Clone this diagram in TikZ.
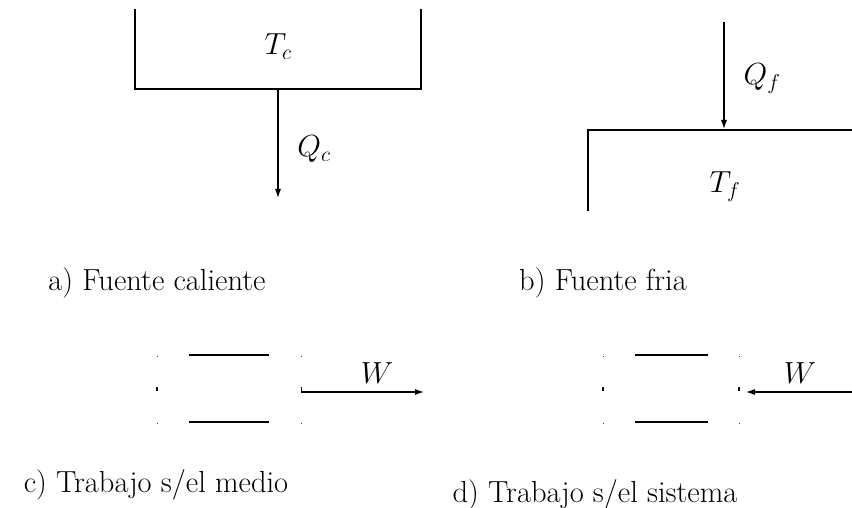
\RequirePackage{fix-cm}
\documentclass[tikz,border=0pt]{standalone}
\usetikzlibrary{arrows.meta}
\definecolor{dotblue}{RGB}{40,40,220}
\begin{document}
\begin{tikzpicture}[x=1pt,y=-1pt,
  wall/.style={line width=1.4pt},
  flow/.style={line width=1.1pt,-{Latex[length=9pt,width=6pt]}},
  lbl/.style={font=\fontsize{30.5}{34}\selectfont, inner sep=0pt, anchor=base},
  tiny/.style={fill=black,inner sep=0pt,minimum width=1.2pt,minimum height=3.5pt},
  speck/.style={fill=dotblue,inner sep=0pt,minimum size=1pt}]
\useasboundingbox (0,0) rectangle (852,508);
% a) hot source
\coordinate (a1) at (135,9);
\coordinate (a2) at (135,89);
\coordinate (a3) at (421,89);
\coordinate (a4) at (421,9);
\draw[wall] (a1) -- (a2) -- (a3) -- (a4);
\node[lbl] (Tc) at (278,55) {$T_c$};
\coordinate (qcs) at (278,89);
\coordinate (qce) at (278,198);
\draw[flow] (qcs) -- (qce);
\node[lbl] (Qc) at (314,157) {$Q_c$};
\node[lbl] (la) at (157,290) {a) Fuente caliente};
% b) cold source
\coordinate (b1) at (852,130);
\coordinate (b2) at (588,130);
\coordinate (b3) at (588,211);
\draw[wall] (b1) -- (b2) -- (b3);
\coordinate (qfs) at (724,22);
\coordinate (qfe) at (724,129);
\draw[flow] (qfs) -- (qfe);
\node[lbl] (Qf) at (762,85) {$Q_f$};
\node[lbl] (Tf) at (725,193) {$T_f$};
\node[lbl] (lb) at (603,290) {b) Fuente fria};
% c) work on surroundings
\coordinate (c1) at (189,355);
\coordinate (c2) at (269,355);
\coordinate (c3) at (189,422);
\coordinate (c4) at (269,422);
\draw[wall] (c1) -- (c2);
\draw[wall] (c3) -- (c4);
\node[tiny] (cm) at (157,389) {};
\node[speck] (cs1) at (157,356) {};
\node[speck] (cs2) at (301,356) {};
\node[speck] (cs3) at (157,423) {};
\node[speck] (cs4) at (301,423) {};
\coordinate (ws) at (301,392);
\coordinate (we) at (424,392);
\coordinate (wt) at (301,387);
\draw[line width=1pt] (wt) -- (ws);
\draw[flow] (ws) -- (we);
\node[lbl] (Wc) at (377,383) {$W$};
\node[lbl] (lc) at (156,492) {c) Trabajo s/el medio};
% d) work on system
\coordinate (d1) at (635,355);
\coordinate (d2) at (708,355);
\coordinate (d3) at (635,422);
\coordinate (d4) at (708,422);
\draw[wall] (d1) -- (d2);
\draw[wall] (d3) -- (d4);
\node[tiny] (dm1) at (603,389) {};
\node[tiny] (dm2) at (739,389) {};
\node[speck] (ds1) at (603,356) {};
\node[speck] (ds2) at (739,356) {};
\node[speck] (ds3) at (603,423) {};
\node[speck] (ds4) at (739,423) {};
\coordinate (vs) at (852,392);
\coordinate (ve) at (746,392);
\draw[flow] (vs) -- (ve);
\node[lbl] (Wd) at (800,383) {$W$};
\node[lbl] (ld) at (595,502) {d) Trabajo s/el sistema};
\end{tikzpicture}
\end{document}
